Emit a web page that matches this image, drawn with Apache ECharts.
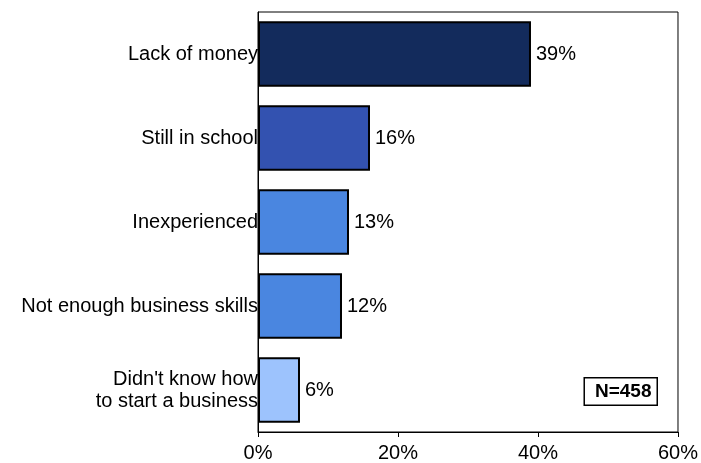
<!DOCTYPE html>
<html>
<head>
<meta charset="utf-8">
<script src="https://cdn.jsdelivr.net/npm/echarts@6/dist/echarts.min.js"></script>
<style>
  html, body { margin: 0; padding: 0; background: #fff; }
  #chart { width: 701px; height: 463px; }
</style>
</head>
<body>
<div id="chart"></div>
<script>
// Reasons for not starting a business (percent of respondents)
const categories = [
  'Lack of money',
  'Still in school',
  'Inexperienced',
  'Not enough business skills',
  "Didn't know how\nto start a business"
];
const values = [39, 16, 13, 12, 6];
const barColors = ['#132b5c', '#3352b0', '#4a86e0', '#4a86e0', '#9dc3fd'];
const xTicks = [0, 20, 40, 60];
const sampleNote = 'N=458';

const chart = echarts.init(document.getElementById('chart'));
const font = 'Liberation Sans, Arial, sans-serif';

chart.setOption({
  animation: false,
  grid: { left: 258, right: 20, top: 12, bottom: 31, show: true, borderColor: '#000', borderWidth: 1 },
  xAxis: {
    type: 'value',
    min: xTicks[0],
    max: xTicks[xTicks.length - 1],
    interval: xTicks[1] - xTicks[0],
    axisLine: { show: true, lineStyle: { color: '#000', width: 1 } },
    axisTick: { show: true, length: 5, lineStyle: { color: '#000' } },
    splitLine: { show: false },
    axisLabel: { formatter: '{value}%', color: '#000', fontSize: 20, fontFamily: font, margin: 11 }
  },
  yAxis: {
    type: 'category',
    data: categories,
    inverse: true,
    axisLine: { show: true, lineStyle: { color: '#000', width: 1 } },
    axisTick: { show: false },
    axisLabel: { color: '#000', fontSize: 20, fontFamily: font, margin: 0, lineHeight: 22, align: 'right' }
  },
  series: [{
    type: 'bar',
    data: values.map((v, i) => ({ value: v, itemStyle: { color: barColors[i] } })),
    barCategoryGap: '22%',
    itemStyle: { borderColor: '#000', borderWidth: 2 },
    label: {
      show: true,
      position: 'right',
      distance: 5,
      formatter: '{c}%',
      color: '#000',
      fontSize: 20,
      fontFamily: font
    }
  }],
  graphic: [{
    type: 'text',
    right: 43,
    bottom: 57,
    style: {
      text: sampleNote,
      fill: '#000',
      font: 'bold 19px ' + font,
      backgroundColor: '#fff',
      borderColor: '#000',
      borderWidth: 1.5,
      padding: [4, 5, 3, 10]
    }
  }]
});
</script>
</body>
</html>
